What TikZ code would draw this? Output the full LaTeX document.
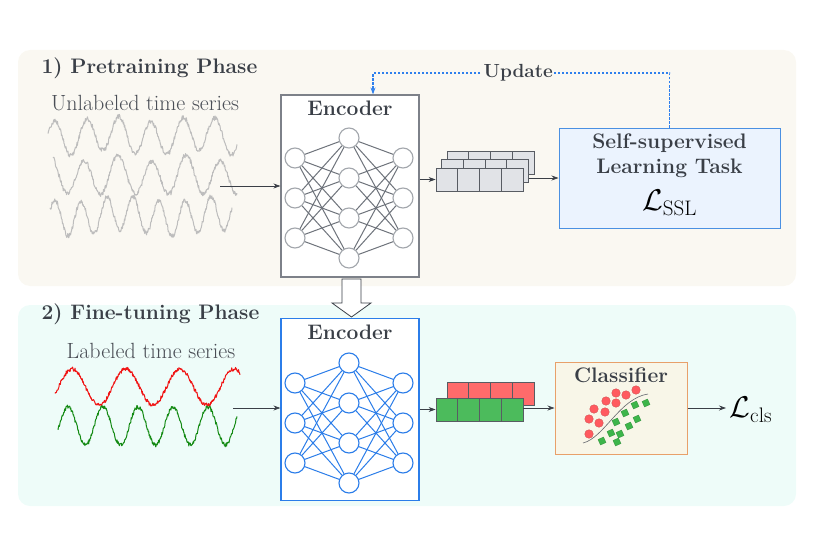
\RequirePackage{fix-cm}
\documentclass[tikz,border=0pt]{standalone}
\usepackage{amsmath}
\usepackage{tikz}
\usetikzlibrary{positioning,arrows.meta,calc}
\definecolor{txtDark}{HTML}{3A3F47}
\definecolor{preBg}{HTML}{FAF8F2}
\definecolor{fineBg}{HTML}{EEFCF9}
\definecolor{encGray}{HTML}{7D8189}
\definecolor{netGray}{HTML}{6E737B}
\definecolor{nodeGray}{HTML}{A2A6AC}
\definecolor{netBlue}{HTML}{2B7DE9}
\definecolor{sslFill}{HTML}{EBF3FE}
\definecolor{sslDraw}{HTML}{4A90E2}
\definecolor{updBlue}{HTML}{2F80ED}
\definecolor{cellGray}{HTML}{E1E3E7}
\definecolor{cellRed}{HTML}{FF6B6B}
\definecolor{cellGreen}{HTML}{4CBB5C}
\definecolor{dotRed}{HTML}{FF5A5F}
\definecolor{dotGreen}{HTML}{3DB54A}
\definecolor{clsFill}{HTML}{F8F6E8}
\definecolor{clsDraw}{HTML}{E8A06A}
\definecolor{seriesGray}{HTML}{BDBDBD}
\definecolor{seriesRed}{HTML}{F01414}
\definecolor{seriesGreen}{HTML}{138A13}

\begin{document}
\begin{tikzpicture}[x=1pt, y=-1pt, >={Stealth[length=7pt, width=5pt]},
    head/.style={anchor=west, font=\fontsize{21}{24}\selectfont\bfseries, text=txtDark},
    sub/.style={font=\fontsize{22}{25}\selectfont, text=txtDark!92},
    bold/.style={font=\fontsize{21}{24}\selectfont\bfseries, text=txtDark},
    encbox/.style={draw=#1, line width=1.2pt, fill=white, minimum width=138pt, minimum height=182pt, inner sep=0pt},
    neuron/.style={circle, draw=#1, line width=1.1pt, fill=white, minimum size=20pt, inner sep=0pt},
    cell/.style={draw=txtDark!85, line width=0.8pt, fill=#1, minimum width=21.75pt, minimum height=23pt, inner sep=0pt},
    flow/.style={->, draw=txtDark, line width=0.7pt},
    wave/.style={line width=1pt, line join=round}]
  \useasboundingbox (0,0) rectangle (830,535);
  \fill[preBg, rounded corners=12pt] (18,50) rectangle (796,286);
  \fill[fineBg, rounded corners=12pt] (18,305) rectangle (796,506);

  % pretraining
  \node[head] (pretitle) at (38,68) {1) Pretraining Phase};
  \node[sub] (unlab) at (145,103) {Unlabeled time series};
  \pgfmathsetseed{11}
  \draw[wave, seriesGray] plot[domain=48:237, samples=380] (\x, {136-17*cos(11.25*(\x-55))-3*sin(4.1*\x)+2.4*rand});
  \draw[wave, seriesGray] plot[domain=53:237, samples=380] (\x, {176-18*cos(10.588*(\x-84))+3*sin(5.3*\x)+2.4*rand});
  \draw[wave, seriesGray] plot[domain=50:232, samples=380] (\x, {216-17*cos(13.846*(\x-55))-3*sin(3.7*\x)+2.4*rand});
  \coordinate (ts1) at (220,186);

  \node[encbox=encGray] (enc1) at (350,186) {};
  \node[bold] (enc1t) at (350,108) {Encoder};
  \foreach \i/\y in {1/158,2/198,3/238} {
    \node[neuron=nodeGray] (pl\i) at (295,\y) {};
    \node[neuron=nodeGray] (pr\i) at (403,\y) {};
  }
  \foreach \j/\y in {1/138,2/178,3/218,4/258}
    \node[neuron=nodeGray] (pm\j) at (349,\y) {};
  \foreach \i in {1,2,3} \foreach \j in {1,...,4}
    \draw[netGray, line width=1pt] (pl\i) -- (pm\j) (pm\j) -- (pr\i);
  \draw[flow] (ts1) -- (ts1 -| enc1.west);

  \foreach \k in {1,...,4} {
    \node[cell=cellGray] (sb\k) at (447+21.75*\k-10.875,163) {};
  }
  \foreach \k in {1,...,4} {
    \node[cell=cellGray] (sm\k) at (441.5+21.75*\k-10.875,171) {};
  }
  \foreach \k in {1,...,4} {
    \node[cell=cellGray] (sf\k) at (436+21.75*\k-10.875,179.5) {};
  }
  \draw[flow] (enc1.east |- sf1.west) -- (sf1.west);

  \node[draw=sslDraw, fill=sslFill, line width=1pt, minimum width=221pt, minimum height=100pt, inner sep=0pt] (ssl) at (669.5,178) {};
  \node[bold] (sslt1) at (ssl.center |- 0,143) {Self-supervised};
  \node[bold] (sslt2) at (ssl.center |- 0,168) {Learning Task};
  \node[font=\fontsize{30}{33}\selectfont] (sslloss) at (ssl.center |- 0,203) {$\mathcal{L}_{\text{SSL}}$};
  \draw[flow] (sm4.east |- ssl.west) -- (ssl.west);

  \coordinate (updR) at (ssl.north |- 0,73);
  \coordinate (updL) at (373,73);
  \draw[->, updBlue, line width=1.1pt, dash pattern=on 2.5pt off 1.5pt] (ssl.north) -- (updR) -- node[pos=0.51, fill=preBg, inner sep=1.5pt, font=\fontsize{19}{22}\selectfont\bfseries, text=txtDark] (upd) {Update} (updL) -- (updL |- enc1.north);

  \draw[txtDark, line width=0.8pt, fill=white] (342,279) -- (361,279) -- (361,303) -- (371,303) -- (351.5,317) -- (332,303) -- (342,303) -- cycle;

  % fine-tuning
  \node[head] (finetitle) at (38,314) {2) Fine-tuning Phase};
  \node[sub] (lab) at (151,351) {Labeled time series};
  \draw[wave, seriesRed] plot[domain=55:240, samples=380] (\x, {387-18*cos(6.667*(\x-72))+2*rand});
  \draw[wave, seriesGreen] plot[domain=58:237, samples=380] (\x, {426-19*cos(10.286*(\x-68))+2*rand});
  \coordinate (ts2) at (233,408);

  \node[encbox=netBlue] (enc2) at (350,409.5) {};
  \node[bold] (enc2t) at (350,332) {Encoder};
  \foreach \i/\y in {1/383,2/423,3/463} {
    \node[neuron=netBlue] (fl\i) at (295,\y) {};
    \node[neuron=netBlue] (fr\i) at (403,\y) {};
  }
  \foreach \j/\y in {1/363,2/403,3/443,4/483}
    \node[neuron=netBlue] (fm\j) at (349,\y) {};
  \foreach \i in {1,2,3} \foreach \j in {1,...,4}
    \draw[netBlue, line width=1pt] (fl\i) -- (fm\j) (fm\j) -- (fr\i);
  \draw[flow] (ts2) -- (ts2 -| enc2.west);

  \foreach \k in {1,...,4} {
    \node[cell=cellRed] (rb\k) at (447+21.75*\k-10.875,393.5) {};
  }
  \foreach \k in {1,...,4} {
    \node[cell=cellGreen] (gf\k) at (436+21.75*\k-10.875,409.5) {};
  }
  \draw[flow] (enc2.east |- gf1.west) -- (gf1.west);

  \node[draw=clsDraw, fill=clsFill, line width=1pt, minimum width=132pt, minimum height=92pt, inner sep=0pt] (cls) at (621,408) {};
  \node[bold] (clst) at (cls.center |- 0,375) {Classifier};
  \draw[flow] (gf4.east |- cls.west) -- (cls.west);
  \draw[txtDark!80, line width=0.6pt] (583,443) .. controls (604,438) and (620,398) .. (648,394);
  \foreach \x/\y in {616/393,626/395,636/390,606/401,616/403,594/409,605/412,589/419,599/423,589/434}
    \filldraw[fill=dotRed, draw=dotRed!80!black, line width=0.3pt] (\x,\y) circle (4.3);
  \foreach \x/\y in {635/405,646/403,625/413,637/419,616/422,629/426,611/433,620/434,602/441,617/442}
    \filldraw[fill=dotGreen, draw=dotGreen!80!black, line width=0.3pt] (\x,\y) ++(-4,-1.5) -- ++(5.5,-2.5) -- ++(2.5,5.5) -- ++(-5.5,2.5) -- cycle;

  \node[anchor=west, font=\fontsize{30}{33}\selectfont] (lcls) at (726,410) {$\mathcal{L}_{\text{cls}}$};
  \draw[flow] (cls.east) -- (cls.east -| lcls.west);
\end{tikzpicture}
\end{document}
